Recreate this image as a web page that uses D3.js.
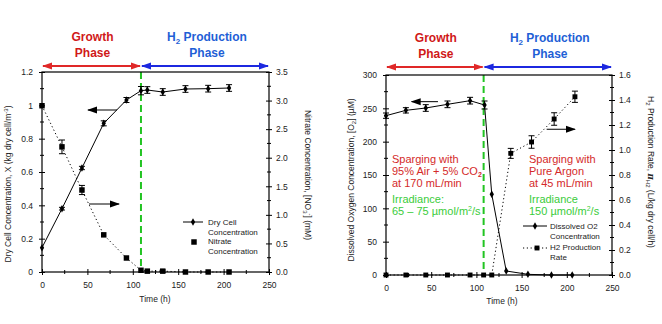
<!DOCTYPE html>
<html><head><meta charset="utf-8">
<script src="https://cdn.jsdelivr.net/npm/d3@7"></script>
<style>body{margin:0;background:#fff}svg{display:block}text{font-family:"Liberation Sans",Arial,sans-serif}</style>
</head><body>
<svg id="c" width="662" height="324"></svg>
<script>
// ---------- DATA ----------
// Left chart: dry cell concentration (kg/m3) and nitrate (mM)
const dcTime = [0, 22, 44, 68, 93, 109, 116, 133, 158, 183, 206];
const dcValue = [0.146, 0.38, 0.624, 0.892, 1.032, 1.088, 1.092, 1.08, 1.098, 1.10, 1.104];
const dcErr = [0, 0.008, 0.01, 0.015, 0.015, 0.025, 0.02, 0.02, 0.02, 0.02, 0.02];
const nitTime = [0, 22, 44, 68, 93, 109, 116, 133, 158, 183, 206];
const nitValue = [2.91, 2.19, 1.435, 0.65, 0.245, 0.03, 0.015, 0.015, 0.0, 0.0, 0.0];
const nitErr = [0, 0.12, 0.08, 0, 0, 0, 0, 0.02, 0, 0, 0];
// Right chart: dissolved O2 (uM) and H2 production rate
const doTime = [0, 22, 44, 68, 93, 109, 117, 133, 157, 183, 206];
const doValue = [239, 247, 250.5, 256, 261.5, 255, 121, 6, 1, 0, 0];
const doErr = [4, 4, 5, 5, 5, 6, 0, 0, 0, 0, 0];
const h2Time = [0, 22, 44, 68, 93, 108, 117, 138, 161, 186, 209];
const h2Value = [0, 0, 0, 0, 0, 0, 0, 0.973, 1.064, 1.248, 1.426];
const h2Err = [0, 0, 0, 0, 0, 0, 0, 0.04, 0.05, 0.05, 0.045];
// Tick labels
const xTicks = [0, 50, 100, 150, 200, 250];
const xTickLabels = ["0", "50", "100", "150", "200", "250"];
const dcTicks = [0, 0.2, 0.4, 0.6, 0.8, 1, 1.2];
const dcTickLabels = ["0", "0.2", "0.4", "0.6", "0.8", "1", "1.2"];
const nitTicks = [0, 0.5, 1, 1.5, 2, 2.5, 3, 3.5];
const nitTickLabels = ["0.0", "0.5", "1.0", "1.5", "2.0", "2.5", "3.0", "3.5"];
const doTicks = [0, 50, 100, 150, 200, 250, 300];
const doTickLabels = ["0", "50", "100", "150", "200", "250", "300"];
const h2Ticks = [0, 0.2, 0.4, 0.6, 0.8, 1.0, 1.2, 1.4, 1.6];
const h2TickLabels = ["0.0", "0.2", "0.4", "0.6", "0.8", "1.0", "1.2", "1.4", "1.6"];
// phase boundaries (h)
const phaseSplit1 = 109, phaseSplit2 = 108;

// ---------- DRAW ----------
const svg = d3.select("#c");
svg.append("rect").attr("width", 662).attr("height", 324).attr("fill", "#fff");
const defs = svg.append("defs");
function marker(id, color) {
  const m = defs.append("marker").attr("id", id).attr("viewBox", "0 0 10 10")
    .attr("refX", 9).attr("refY", 5).attr("markerWidth", 10).attr("markerHeight", 10)
    .attr("markerUnits", "userSpaceOnUse").attr("orient", "auto-start-reverse");
  m.append("path").attr("d", "M0,1.5L10,5L0,8.5Z").attr("fill", color);
}
marker("ar", "#e02828"); marker("ab", "#1c28e0"); marker("ak", "#000");

const FS = 8.5, TC = "#222";

function axes(g, x, yl, yr, ylTicks, ylLabels, yrTicks, yrLabels, box) {
  const [x0, x1] = x.range(), [y0, y1] = yl.range();
  // frame
  g.append("rect").attr("x", x0).attr("y", y1).attr("width", x1 - x0).attr("height", y0 - y1)
    .attr("fill", "none").attr("stroke", "#000").attr("stroke-width", 1.2);
  const style = (sel) => {
    sel.select(".domain").remove();
    sel.selectAll("text").attr("font-size", FS).attr("fill", TC).attr("font-family", "Liberation Sans, Arial, sans-serif");
    sel.selectAll("line").attr("stroke", "#000");
  };
  const gx = g.append("g").attr("transform", `translate(0,${y0})`)
    .call(d3.axisBottom(x).tickValues(xTicks).tickFormat((d, i) => xTickLabels[i]).tickSize(3).tickPadding(7));
  style(gx); gx.selectAll(".tick line").attr("y1", -3).attr("y2", 3);
  const gl = g.append("g").attr("transform", `translate(${x0},0)`)
    .call(d3.axisLeft(yl).tickValues(ylTicks).tickFormat((d, i) => ylLabels[i]).tickSize(3).tickPadding(6));
  style(gl); gl.selectAll(".tick line").attr("x1", -3).attr("x2", 3);
  const gr = g.append("g").attr("transform", `translate(${x1},0)`)
    .call(d3.axisRight(yr).tickValues(yrTicks).tickFormat((d, i) => yrLabels[i]).tickSize(3).tickPadding(4));
  style(gr); gr.selectAll(".tick line").attr("x1", -3).attr("x2", 3);
  // minor ticks
  const minor = (vals, f) => vals.slice(0, -1).map((v, i) => (v + vals[i + 1]) / 2).forEach(f);
  minor(xTicks, v => g.append("line").attr("x1", x(v)).attr("x2", x(v)).attr("y1", y0 - 2).attr("y2", y0 + 2).attr("stroke", "#000"));
  minor(ylTicks, v => g.append("line").attr("x1", x0 - 2).attr("x2", x0 + 2).attr("y1", yl(v)).attr("y2", yl(v)).attr("stroke", "#000"));
  minor(yrTicks, v => g.append("line").attr("x1", x1 - 2).attr("x2", x1 + 2).attr("y1", yr(v)).attr("y2", yr(v)).attr("stroke", "#000"));
}

function series(g, x, y, ts, vs, es, sym, size, dash) {
  const pts = ts.map((t, i) => [t, vs[i], es[i]]);
  g.append("path").datum(pts).attr("fill", "none").attr("stroke", "#000").attr("stroke-width", 1)
    .attr("stroke-dasharray", dash || null)
    .attr("d", d3.line().x(d => x(d[0])).y(d => y(d[1])));
  const eb = g.append("g").attr("stroke", "#000").attr("stroke-width", 1);
  pts.filter(d => d[2] > 0).forEach(d => {
    const cx = x(d[0]), ya = y(d[1] + d[2]), yb = y(d[1] - d[2]);
    eb.append("line").attr("x1", cx).attr("x2", cx).attr("y1", ya).attr("y2", yb);
    eb.append("line").attr("x1", cx - 3).attr("x2", cx + 3).attr("y1", ya).attr("y2", ya);
    eb.append("line").attr("x1", cx - 3).attr("x2", cx + 3).attr("y1", yb).attr("y2", yb);
  });
  g.selectAll(null).data(pts).join("path")
    .attr("transform", d => `translate(${x(d[0])},${y(d[1])})`)
    .attr("d", d3.symbol(sym, size)).attr("fill", "#000");
}

function phaseHeader(g, x, split, yArrow, yText) {
  g.append("line").attr("x1", x(0) + 1).attr("x2", x(split) - 1).attr("y1", yArrow).attr("y2", yArrow)
    .attr("stroke", "#e02828").attr("stroke-width", 2)
    .attr("marker-start", "url(#ar)").attr("marker-end", "url(#ar)");
  g.append("line").attr("x1", x(split) + 1).attr("x2", x(250) - 1).attr("y1", yArrow).attr("y2", yArrow)
    .attr("stroke", "#1c28e0").attr("stroke-width", 2)
    .attr("marker-start", "url(#ab)").attr("marker-end", "url(#ab)");
  const tf = "DejaVu Sans, Verdana, sans-serif";
  const gx = (x(0) + x(split)) / 2 + 1, hx = (x(split) + x(250)) / 2 + 2;
  g.append("text").attr("x", gx).attr("y", yText).attr("text-anchor", "middle").attr("font-family", tf)
    .attr("font-weight", "bold").attr("font-size", 12).attr("fill", "#d01818").text("Growth");
  g.append("text").attr("x", gx).attr("y", yText + 16).attr("text-anchor", "middle").attr("font-family", tf)
    .attr("font-weight", "bold").attr("font-size", 12).attr("fill", "#d01818").text("Phase");
  const h = g.append("text").attr("x", hx).attr("y", yText).attr("text-anchor", "middle").attr("font-family", tf)
    .attr("font-weight", "bold").attr("font-size", 12).attr("fill", "#1f5fd6");
  h.append("tspan").text("H");
  h.append("tspan").attr("font-size", 8).attr("dy", 3).text("2");
  h.append("tspan").attr("dy", -3).text(" Production");
  g.append("text").attr("x", hx).attr("y", yText + 16).attr("text-anchor", "middle").attr("font-family", tf)
    .attr("font-weight", "bold").attr("font-size", 12).attr("fill", "#1f5fd6").text("Phase");
}

function greenLine(g, x, y, t) {
  g.append("line").attr("x1", x(t)).attr("x2", x(t)).attr("y1", y.range()[1]).attr("y2", y.range()[0])
    .attr("stroke", "#22c422").attr("stroke-width", 2).attr("stroke-dasharray", "7,4");
}

function blackArrow(g, xa, ya, xb, yb) {
  g.append("line").attr("x1", xa).attr("y1", ya).attr("x2", xb).attr("y2", yb)
    .attr("stroke", "#000").attr("stroke-width", 1).attr("marker-end", "url(#ak)");
}

function rotLabel(g, x, y, angle, parts) {
  const t = g.append("text").attr("transform", `translate(${x},${y}) rotate(${angle})`)
    .attr("text-anchor", "middle").attr("font-size", FS).attr("fill", TC);
  parts.forEach(p => {
    const s = t.append("tspan").text(p[0]);
    if (p[1] === "sub") s.attr("font-size", 6).attr("dy", 2);
    if (p[1] === "sup") s.attr("font-size", 6).attr("dy", -3);
    if (p[1] === "b") s.attr("font-weight", "bold").attr("font-family", "DejaVu Serif, serif").attr("font-style", "italic");
    if (p[2]) s.attr("dy", p[2]);
  });
}

// ---- Left chart ----
const L = svg.append("g");
const x1 = d3.scaleLinear().domain([0, 250]).range([42, 269]);
const yDC = d3.scaleLinear().domain([0, 1.2]).range([272, 72]);
const yNit = d3.scaleLinear().domain([0, 3.5]).range([272, 72]);
greenLine(L, x1, yDC, phaseSplit1);
axes(L, x1, yDC, yNit, dcTicks, dcTickLabels, nitTicks, nitTickLabels);
series(L, x1, yNit, nitTime, nitValue, nitErr, d3.symbolSquare, 30, "1.2,2.6");
series(L, x1, yDC, dcTime, dcValue, dcErr, d3.symbolDiamond, 16, null);
blackArrow(L, x1(82.6), yDC(0.972), x1(50.7), yDC(0.972));
blackArrow(L, x1(51.8), yDC(0.408), x1(84.8), yDC(0.408));
phaseHeader(L, x1, phaseSplit1, 66, 41);
L.append("text").attr("x", 155).attr("y", 302).attr("text-anchor", "middle").attr("font-size", FS).attr("fill", TC).text("Time  (h)");
rotLabel(L, 11, 184, -90, [["Dry Cell Concentration, X (kg dry cell/m"], ["-3", "sup"], [")", null, 3]]);
rotLabel(L, 305, 175, 90, [["Nitrate Concentration, [NO"], ["3", "sub"], ["-", "sup", -5], ["] (mM)", null, 3]]);
// legend
L.append("line").attr("x1", 183).attr("x2", 203).attr("y1", 222).attr("y2", 222).attr("stroke", "#000");
L.append("path").attr("transform", "translate(193,222)").attr("d", d3.symbol(d3.symbolDiamond, 16)).attr("fill", "#000");
L.append("path").attr("transform", "translate(194,242)").attr("d", d3.symbol(d3.symbolSquare, 30)).attr("fill", "#000");
[["Dry Cell", 225], ["Concentration", 235], ["Nitrate", 244], ["Concentration", 254]].forEach(d =>
  L.append("text").attr("x", 208).attr("y", d[1]).attr("font-size", 8).attr("fill", TC).text(d[0]));

// ---- Right chart ----
const R = svg.append("g");
const x2 = d3.scaleLinear().domain([0, 250]).range([386, 612]);
const yDO = d3.scaleLinear().domain([0, 300]).range([275, 75]);
const yH2 = d3.scaleLinear().domain([0, 1.6]).range([275, 75]);
greenLine(R, x2, yDO, phaseSplit2);
axes(R, x2, yDO, yH2, doTicks, doTickLabels, h2Ticks, h2TickLabels);
series(R, x2, yH2, h2Time, h2Value, h2Err, d3.symbolSquare, 24, "1.2,2.6");
series(R, x2, yDO, doTime, doValue, doErr, d3.symbolDiamond, 16, null);
blackArrow(R, x2(57.5), yDO(260), x2(28.4), yDO(260));
blackArrow(R, x2(177.7), yH2(1.166), x2(209), yH2(1.166));
phaseHeader(R, x2, phaseSplit2, 67, 42);
R.append("text").attr("x", 502).attr("y", 304).attr("text-anchor", "middle").attr("font-size", FS).attr("fill", TC).text("Time  (h)");
rotLabel(R, 354, 180, -90, [["Dissolved Oxygen Concentration, [O"], ["2", "sub"], ["] (µM)", null, -2]]);
rotLabel(R, 648, 172, 90, [["H"], ["2", "sub"], [" Production Rate, ", null, -2], ["π", "b"], ["H2", "sub"], [" (L/kg dry cell/h)", null, -2]]);
// annotations
const red = "#d42a2a", grn = "#3acc3a";
function ann(x, y, color, parts) {
  const t = R.append("text").attr("x", x).attr("y", y).attr("font-size", 11).attr("fill", color);
  parts.forEach(p => {
    const s = t.append("tspan").text(p[0]);
    if (p[1] === "sub") s.attr("font-size", 7).attr("dy", 2).attr("font-weight", "bold");
    if (p[1] === "sup") s.attr("font-size", 7).attr("dy", -4);
    if (p[2] !== undefined) s.attr("dy", p[2]);
  });
}
ann(392, 163, red, [["Sparging with"]]);
ann(392, 175, red, [["95% Air + 5% CO"], ["2", "sub"]]);
ann(392, 187, red, [["at 170 mL/min"]]);
ann(392, 203, grn, [["Irradiance:"]]);
ann(392, 215, grn, [["65 – 75 µmol/m"], ["2", "sup"], ["/s", null, 4]]);
ann(529, 163, red, [["Sparging with"]]);
ann(529, 175, red, [["Pure Argon"]]);
ann(529, 187, red, [["at 45 mL/min"]]);
ann(529, 203, grn, [["Irradiance"]]);
ann(529, 215, grn, [["150 µmol/m"], ["2", "sup"], ["/s", null, 4]]);
// legend
R.append("line").attr("x1", 523).attr("x2", 547).attr("y1", 226).attr("y2", 226).attr("stroke", "#000");
R.append("path").attr("transform", "translate(535,226)").attr("d", d3.symbol(d3.symbolDiamond, 16)).attr("fill", "#000");
R.append("line").attr("x1", 523).attr("x2", 547).attr("y1", 248).attr("y2", 248).attr("stroke", "#000").attr("stroke-dasharray", "1.2,2.6");
R.append("path").attr("transform", "translate(537,248)").attr("d", d3.symbol(d3.symbolSquare, 24)).attr("fill", "#000");
[["Dissolved O2", 229], ["Concentration", 239], ["H2 Production", 250], ["Rate", 260]].forEach(d =>
  R.append("text").attr("x", 550).attr("y", d[1]).attr("font-size", 8).attr("fill", TC).text(d[0]));
</script>
</body></html>
